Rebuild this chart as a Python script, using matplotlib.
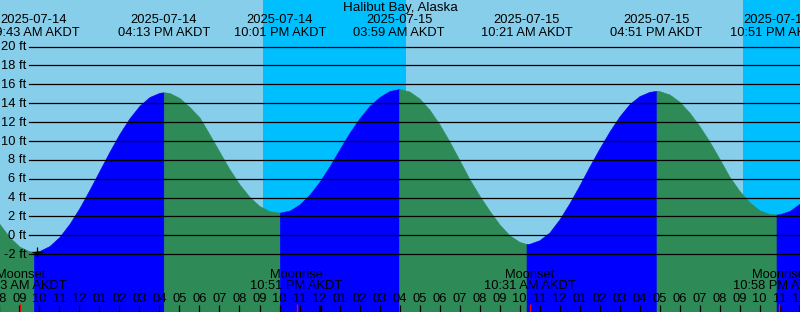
import numpy as np
import pandas as pd
import matplotlib
matplotlib.use("Agg")
import matplotlib.pyplot as plt
from matplotlib import transforms

plt.rcParams['font.family'] = ['Liberation Sans', 'DejaVu Sans']
FS = 9.3

# --- data ---
station = "Halibut Bay, Alaska"

# high / low tide events (AKDT) and heights in ft
tide_times = ["2025-07-14 09:43", "2025-07-14 16:13", "2025-07-14 22:01",
              "2025-07-15 03:59", "2025-07-15 10:21", "2025-07-15 16:51",
              "2025-07-15 22:51"]
tide_heights = [-1.74, 15.15, 2.4, 15.5, -0.92, 15.3, 2.2]

# tide height every 30 minutes, starting 2025-07-14 08:00
curve_start = "2025-07-14 08:00"
curve_heights = [
    1.2, -0.2, -1.2, -1.7, -1.66, -1.14, -0.17, 1.21,        # 08:00 - 11:30
    2.9, 4.82, 6.84, 8.85, 10.75, 12.4, 13.73, 14.65,        # 12:00 - 15:30
    15.1, 15.08, 14.55, 13.6, 12.5, 10.7, 8.84, 7.0,         # 16:00 - 19:30
    5.4, 4.07, 3.1, 2.55, 2.4, 2.61, 3.26, 4.3,              # 20:00 - 23:30
    5.66, 7.3, 9.1, 10.85, 12.4, 13.7, 14.64, 15.29,         # 00:00 - 03:30
    15.5, 15.23, 14.49, 13.31, 11.76, 9.94, 7.96, 5.95,      # 04:00 - 07:30
    4.2, 2.6, 1.15, 0.0, -0.7, -0.9, -0.52, 0.3,             # 08:00 - 11:30
    1.7, 3.4, 5.3, 7.3, 9.2, 11.0, 12.6, 13.9,               # 12:00 - 15:30
    14.75, 15.2, 15.28, 14.92, 14.15, 13.0, 11.57, 9.94,     # 16:00 - 19:30
    8.1, 6.2, 4.7, 3.5, 2.65, 2.25, 2.23, 2.57,              # 20:00 - 23:30
    3.33, 4.46,                                              # 00:00 - 00:30
]

sunsets = ["2025-07-14 21:10", "2025-07-15 21:10"]
sunrises = ["2025-07-15 04:18", "2025-07-16 04:20"]

moon_times = ["2025-07-14 09:03", "2025-07-14 22:51", "2025-07-15 10:31",
              "2025-07-15 22:58"]
moon_events = ["Moonset", "Moonrise", "Moonset", "Moonrise"]

now_time = "2025-07-14 09:53"
now_height = -1.77

y_ticks = list(range(-2, 21, 2))

# --- helpers ---
base = pd.Timestamp("2025-07-14 00:00")


def hours(s):
    return (pd.Timestamp(s) - base) / pd.Timedelta(hours=1)


x0, x1 = 8.025, 48.025
y0, y1 = -8.13, 24.93

fig = plt.figure(figsize=(8, 3.12), dpi=100)
ax = fig.add_axes([0, 0, 1, 1])
ax.set_xlim(x0, x1)
ax.set_ylim(y0, y1)
ax.axis('off')
ax.add_patch(plt.Rectangle((0, 0), 1, 1, transform=ax.transAxes,
                           color='#87ceeb', zorder=0))

# night bands
for ss, sr in zip(sunsets, sunrises):
    ax.axvspan(hours(ss), hours(sr), color='#00bfff', lw=0, zorder=1)

# tide curve, coloured by rising / falling
ev_t = np.array([hours(t) for t in tide_times])
ev_h = np.array(tide_heights)
smp_t = hours(curve_start) + 0.5 * np.arange(len(curve_heights))
t_all = np.concatenate([smp_t, ev_t])
h_all = np.concatenate([np.array(curve_heights), ev_h])
order = np.argsort(t_all)
t_all, h_all = t_all[order], h_all[order]

bounds = [-np.inf] + list(ev_t) + [np.inf]
for k in range(len(bounds) - 1):
    a, b = bounds[k], bounds[k + 1]
    m = (t_all >= a) & (t_all <= b)
    if k < len(ev_h):
        rising = ev_h[k] > ev_h[k + 1 if k + 1 < len(ev_h) else k - 1]
    else:
        rising = ev_h[-1] < ev_h[-2]
    c = '#0000ff' if rising else '#2e8b57'
    ax.fill_between(t_all[m], h_all[m], y0, color=c, lw=0.4, ec=c, zorder=2)

# horizontal grid lines and labels
lab_tr = transforms.blended_transform_factory(ax.transAxes, ax.transData)
lab_tr = transforms.offset_copy(lab_tr, fig=fig, x=0, y=-3.7, units='dots')
for v in y_ticks:
    ax.axhline(v, xmin=29.3 / 800, xmax=1, color='black', lw=0.9, zorder=3)
    ax.text(26 / 800, v, f"{v} ft", transform=lab_tr, ha='right',
            va='baseline', fontsize=FS, zorder=5)

# "now" marker
ax.plot([hours(now_time)], [now_height], marker='+', ms=7, mew=0.9,
        color='black', zorder=4)

xtr = ax.get_xaxis_transform()


def fy(px):
    return 1 - px / 312


# title and tide event labels
ax.text(0.5, fy(10.7), station, transform=ax.transAxes, ha='center',
        va='baseline', fontsize=FS + 0.3, zorder=5)
for t in tide_times:
    ts = pd.Timestamp(t)
    ax.text(hours(t), fy(23.3), ts.strftime("%Y-%m-%d"), transform=xtr,
            ha='center', va='baseline', fontsize=FS, zorder=5)
    ax.text(hours(t), fy(36), ts.strftime("%I:%M %p") + " AKDT",
            transform=xtr, ha='center', va='baseline', fontsize=FS, zorder=5)

# moon events
for t, name in zip(moon_times, moon_events):
    ts = pd.Timestamp(t)
    ax.text(hours(t), fy(278), name, transform=xtr, ha='center',
            va='baseline', fontsize=FS, zorder=5)
    ax.text(hours(t), fy(289.3), ts.strftime("%I:%M %p") + " AKDT",
            transform=xtr, ha='center', va='baseline', fontsize=FS, zorder=5)
    ax.vlines(hours(t), 0, 8 / 312, transform=xtr, color='red', lw=1.0,
              zorder=6)

# hour ticks and labels
for h in range(8, 49):
    lab = f"{(h - 1) % 12 + 1:02d}"
    ax.text(h, fy(301.7), lab, transform=xtr, ha='center', va='baseline',
            fontsize=FS, zorder=5)
    w = 2.4 if h % 24 == 0 else 0.9
    ax.vlines(h, 0, 7 / 312, transform=xtr, color='black', lw=w, zorder=5)

fig.savefig("out.png", dpi=100)
